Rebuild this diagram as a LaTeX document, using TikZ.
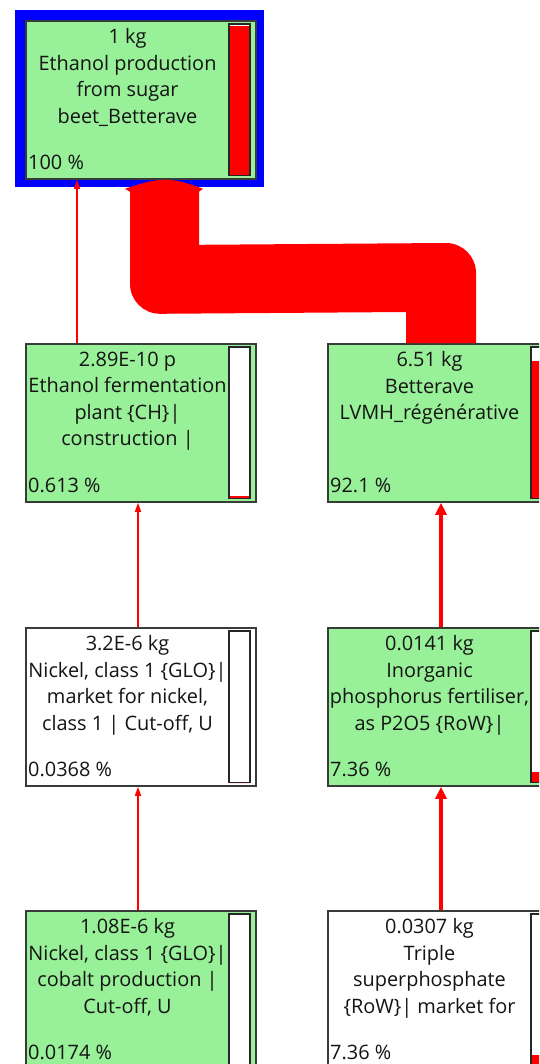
\documentclass[tikz,border=0pt]{standalone}
\usepackage{fontspec}
\setmainfont{Open Sans}
\usetikzlibrary{calc,arrows.meta}
\definecolor{boxgreen}{RGB}{152,240,152}
\definecolor{boxline}{RGB}{55,60,55}
\definecolor{txt}{RGB}{20,20,20}
\definecolor{flowred}{RGB}{255,0,0}
\definecolor{frameblue}{RGB}{0,0,255}
\tikzset{
  procbox/.style={rectangle, draw=boxline, line width=1.8pt, inner sep=0pt,
    minimum width=230pt, minimum height=158pt, anchor=north west},
  titletext/.style={inner sep=0pt, anchor=north, align=center, text=txt,
    font=\fontsize{19.9}{26.5}\selectfont},
  pcttext/.style={inner sep=0pt, anchor=base west, text=txt,
    font=\fontsize{19.9}{26.5}\selectfont},
  barline/.style={draw=black!85, line width=1.2pt},
  thinflow/.style={draw=flowred, line width=1.5pt, -{Triangle[length=9pt,width=6pt]}},
  thickflow/.style={draw=flowred, line width=4.2pt, -{Triangle[length=12pt,width=11pt]}},
}
% #1 name, #2 x, #3 y, #4 fill, #5 title, #6 percent, #7 red height of bar
\newcommand{\procnode}[7]{%
  \node[procbox, fill=#4] (#1) at (#2,#3) {};
  \node[titletext] (#1t) at ($(#1.north west)+(102.5,8.5)$) {#5};
  \node[pcttext] (#1p) at ($(#1.south west)+(3,-10)$) {#6};
  \fill[white] ($(#1.north west)+(204,4)$) rectangle ($(#1.south west)+(225,-4)$);
  \fill[flowred] ($(#1.south west)+(204,-4)$) rectangle ($(#1.south west)+(225,-4-#7)$);
  \draw[barline] ($(#1.north west)+(204,4)$) rectangle ($(#1.south west)+(225,-4)$);
}
\begin{document}
\begin{tikzpicture}[x=1pt,y=-1pt]
\clip (0,0) rectangle (539,1064);
\fill[white] (0,0) rectangle (539,1064);
% blue highlight frame of the top process
\fill[frameblue] (15,10) rectangle (264,187);
\procnode{b0}{25}{20}{boxgreen}{1 kg\\Ethanol production\\from sugar\\beet\_Betterave}{100 \%}{150}
\procnode{b1}{25}{343}{boxgreen}{2.89E-10 p\\Ethanol fermentation\\plant \{CH\}|\\construction |}{0.613 \%}{2.5}
\procnode{b2}{327}{343}{boxgreen}{6.51 kg\\Betterave\\LVMH\_régénérative}{92.1 \%}{138}
\procnode{b3}{25}{627}{white}{3.2E-6 kg\\Nickel, class 1 \{GLO\}|\\market for nickel,\\class 1 | Cut-off, U}{0.0368 \%}{0}
\procnode{b4}{327}{627}{boxgreen}{0.0141 kg\\Inorganic\\phosphorus fertiliser,\\as P2O5 \{RoW\}|}{7.36 \%}{11}
\procnode{b5}{25}{910}{boxgreen}{1.08E-6 kg\\Nickel, class 1 \{GLO\}|\\cobalt production |\\Cut-off, U}{0.0174 \%}{0}
\procnode{b6}{327}{910}{white}{0.0307 kg\\Triple\\superphosphate\\\{RoW\}| market for}{7.36 \%}{11}
% thick flow band b2 -> b0
\fill[flowred]
  ($(b0.south west)+(105,12)$) -- ($(b0.south west)+(100,9)$)
  .. controls ($(b0.south west)+(118,3)$) and ($(b0.south west)+(128,0)$) .. ($(b0.south west)+(140,0)$)
  .. controls ($(b0.south west)+(152,0)$) and ($(b0.south west)+(162,3)$) .. ($(b0.south west)+(178,9)$)
  -- ($(b0.south west)+(174,12)$)
  -- ($(b0.south west)+(174,65)$)
  -- ($(b2.north west)+(119,-100)$)
  .. controls ($(b2.north west)+(135.6,-100)$) and ($(b2.north west)+(149,-86.6)$) .. ($(b2.north west)+(149,-70)$)
  -- ($(b2.north west)+(149,0)$)
  -- ($(b2.north west)+(79,0)$)
  -- ($(b2.north west)+(79,-31)$)
  -- ($(b0.south west)+(135,134)$)
  .. controls ($(b0.south west)+(118.4,134)$) and ($(b0.south west)+(105,120.6)$) .. ($(b0.south west)+(105,104)$)
  -- cycle;
% thin and thick connectors
\draw[thinflow] ($(b1.north west)+(52,0)$) -- ($(b0.south west)+(52,0)$);
\draw[thinflow] ($(b3.north west)+(113,0)$) -- ($(b1.south west)+(113,0)$);
\draw[thinflow] ($(b5.north west)+(113,0)$) -- ($(b3.south west)+(113,0)$);
\draw[thickflow] ($(b4.north west)+(114,0)$) -- ($(b2.south west)+(114,0)$);
\draw[thickflow] ($(b6.north west)+(114,0)$) -- ($(b4.south west)+(114,0)$);
\end{tikzpicture}
\end{document}
